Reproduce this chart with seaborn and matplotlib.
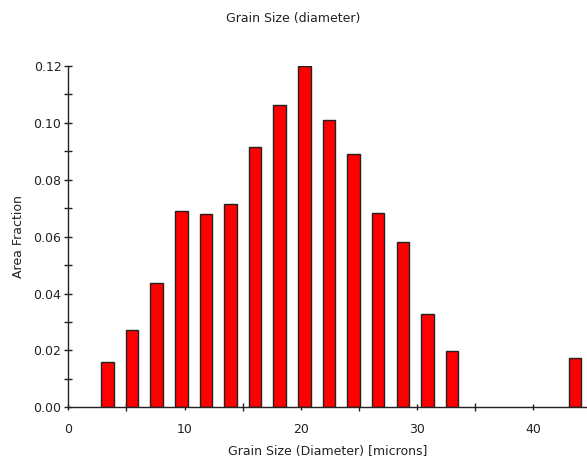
import numpy as np
import matplotlib
matplotlib.use("Agg")
import matplotlib.pyplot as plt
from matplotlib.ticker import MultipleLocator, FormatStrFormatter
import seaborn as sns

# bin centres (microns) and area fraction
centers = [3.36, 5.48, 7.60, 9.72, 11.84, 13.95, 16.07, 18.19, 20.31, 22.43,
           24.55, 26.67, 28.79, 30.91, 33.02, 35.14, 37.26, 39.38, 41.50, 43.62]
fractions = [0.0159, 0.0272, 0.0436, 0.0691, 0.0679, 0.0716, 0.0914, 0.1063, 0.1200, 0.1010,
             0.0890, 0.0682, 0.0580, 0.0328, 0.0198, 0.0, 0.0, 0.0, 0.0, 0.0174]

sns.set_style("white")
plt.rcParams['font.family'] = ['DejaVu Sans']
plt.rcParams['font.size'] = 9

fig = plt.figure(figsize=(5.87, 4.63), dpi=100)
ax = fig.add_axes([0.1164, 0.1203, 0.8836, 0.7372])

sns.barplot(x=centers, y=fractions, native_scale=True, width=0.51,
            color='#ff0000', saturation=1, edgecolor='#222222', linewidth=1.0, ax=ax)

# empty bins draw nothing in the original
for p in ax.patches:
    if p.get_height() == 0:
        p.set_visible(False)

ax.set_xlim(0, 44.64)
ax.set_ylim(0, 0.12)
ax.xaxis.set_major_locator(MultipleLocator(10))
ax.xaxis.set_minor_locator(MultipleLocator(5))
ax.yaxis.set_major_locator(MultipleLocator(0.02))
ax.yaxis.set_minor_locator(MultipleLocator(0.01))
ax.yaxis.set_major_formatter(FormatStrFormatter('%.2f'))

for s in ['top', 'right']:
    ax.spines[s].set_visible(False)
for s in ['left', 'bottom']:
    ax.spines[s].set_color('#222222')
    ax.spines[s].set_linewidth(1.0)

ax.tick_params(axis='both', which='both', direction='inout', color='#222222',
               labelcolor='#222222', labelsize=9, width=1, bottom=True, left=True)
ax.tick_params(axis='y', which='major', length=6, pad=2)
ax.tick_params(axis='y', which='minor', length=6)
ax.tick_params(axis='x', which='major', length=5, pad=9)
ax.tick_params(axis='x', which='minor', length=6)

ax.set_xlabel('Grain Size (Diameter) [microns]', fontsize=9, color='#222222', labelpad=6)
ax.set_ylabel('Area Fraction', fontsize=9, color='#222222', labelpad=6)
fig.suptitle('Grain Size (diameter)', fontsize=9, color='#222222', y=0.975)

fig.savefig('out.png', dpi=100)
